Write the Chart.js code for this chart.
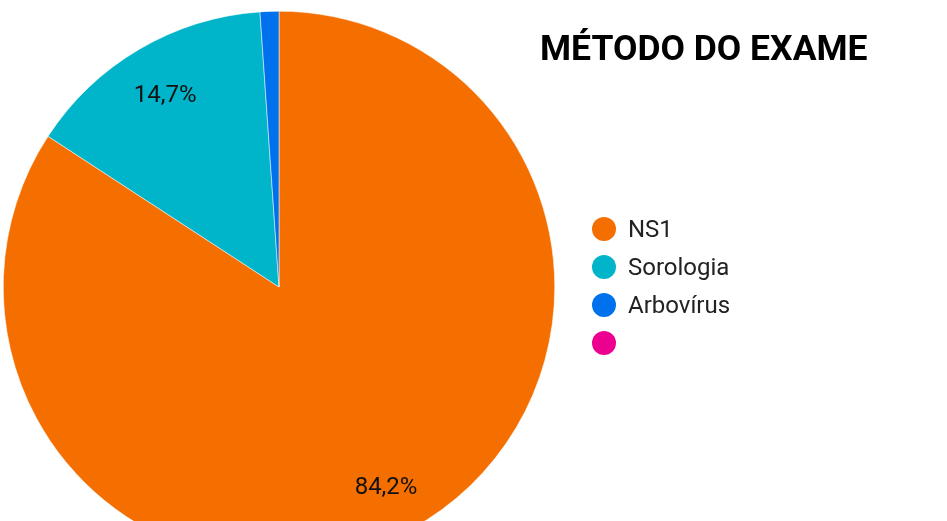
<!DOCTYPE html>
<html>
<head>
<meta charset="utf-8">
<script src="https://cdn.jsdelivr.net/npm/chart.js@4"></script>
<style>
  html, body { margin:0; padding:0; background:#fff; overflow:hidden; }
  #wrap { position:relative; width:947px; height:521px; overflow:hidden; }
  #c { position:absolute; left:0; top:0; }
  #title { position:absolute; left:540px; top:26px; font-family:Roboto, sans-serif; font-weight:700; font-size:35.5px; color:#000; white-space:nowrap; line-height:44px; }
  #legend { position:absolute; left:592px; top:210px; font-family:Roboto, sans-serif; font-size:24px; color:#222; }
  .row { height:38px; display:flex; align-items:center; white-space:nowrap; }
  .dot { width:24px; height:24px; border-radius:50%; margin-right:12px; flex:none; }
</style>
</head>
<body>
<div id="wrap">
  <canvas id="c" width="947" height="574"></canvas>
  <div id="title">MÉTODO DO EXAME</div>
  <div id="legend"></div>
</div>
<script>
const titleText = "MÉTODO DO EXAME";
const categories = ["NS1", "Sorologia", "Arbovírus", ""];
const values = [84.2, 14.7, 1.1, 0];
const colors = ["#F56E00", "#00B5CA", "#0071EC", "#EC0090"];

document.getElementById('title').textContent = titleText;
const leg = document.getElementById('legend');
categories.forEach((c, i) => {
  const r = document.createElement('div'); r.className = 'row';
  const d = document.createElement('span'); d.className = 'dot'; d.style.background = colors[i];
  const t = document.createElement('span'); t.textContent = c;
  r.appendChild(d); r.appendChild(t); leg.appendChild(r);
});

const labelPlugin = {
  id: 'sliceLabels',
  afterDatasetsDraw(chart) {
    const ctx = chart.ctx;
    const meta = chart.getDatasetMeta(0);
    ctx.save();
    ctx.font = '24px Roboto, sans-serif';
    ctx.fillStyle = '#111';
    ctx.textAlign = 'center';
    ctx.textBaseline = 'middle';
    meta.data.forEach((arc, i) => {
      const v = values[i];
      if (v < 5) return;
      const p = arc.getProps(['x','y','startAngle','endAngle','outerRadius'], true);
      const mid = (p.startAngle + p.endAngle) / 2;
      const r = p.outerRadius * 0.815;
      ctx.fillText(v.toFixed(1).replace('.', ',') + '%', p.x + Math.cos(mid) * r, p.y + Math.sin(mid) * r + 3);
    });
    ctx.restore();
  }
};

new Chart(document.getElementById('c'), {
  type: 'pie',
  data: {
    labels: categories,
    datasets: [{
      data: values,
      backgroundColor: colors,
      borderColor: '#ffffff',
      borderWidth: 0.5
    }]
  },
  options: {
    responsive: false,
    animation: false,
    devicePixelRatio: 1,
    layout: { padding: { left: 3, top: 11, right: 392, bottom: 11 } },
    plugins: { legend: { display: false }, tooltip: { enabled: false }, title: { display: false } }
  },
  plugins: [labelPlugin]
});
</script>
</body>
</html>
